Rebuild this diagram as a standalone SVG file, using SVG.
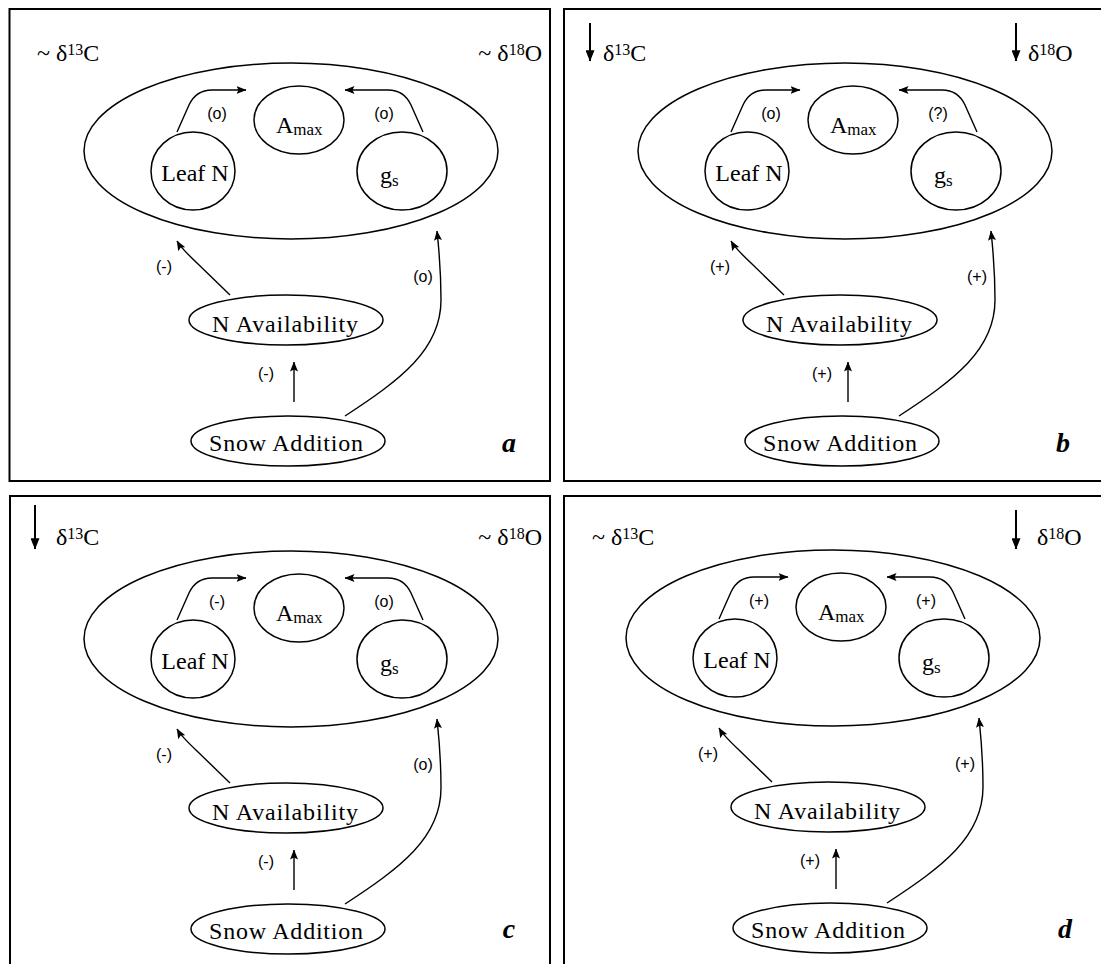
<svg xmlns="http://www.w3.org/2000/svg" width="1101" height="964" viewBox="0 0 1101 964">
<style>
.frame{fill:none;stroke:#000;stroke-width:2}
.node ellipse{fill:none;stroke:#000;stroke-width:1.5}
.lbl{font-family:"Liberation Serif","Times New Roman",serif;font-size:24px;fill:#000}
.sub{font-size:17px}
.sup{font-size:16px}
.sgn{font-family:"Liberation Sans",Arial,sans-serif;font-size:16px;fill:#000;text-anchor:middle}
.conn{fill:none;stroke:#000;stroke-width:1.4;marker-end:url(#ah)}
.dn{fill:none;stroke:#000;stroke-width:2;marker-end:url(#ahb)}
.letter{font-family:"Liberation Serif","Times New Roman",serif;font-size:28px;font-weight:bold;font-style:italic;text-anchor:middle}
</style>
<defs>
<marker id="ah" markerUnits="userSpaceOnUse" viewBox="0 0 10 8" refX="9.5" refY="4" markerWidth="10" markerHeight="8" orient="auto"><path d="M0,0 L10,4 L0,8 L2,4 Z" fill="#000"/></marker>
<marker id="ahb" markerUnits="userSpaceOnUse" viewBox="0 0 10 8" refX="9.5" refY="4" markerWidth="12" markerHeight="9" orient="auto"><path d="M0,0 L10,4 L0,8 Z" fill="#000"/></marker>
</defs>
<rect width="1101" height="964" fill="#fff"/>

<!-- Panel a -->
<g id="panel-a">
<rect class="frame" x="9.5" y="9" width="540.5" height="472"/>
<text class="lbl" x="37" y="61">~ δ<tspan class="sup" dy="-6">13</tspan><tspan dy="6">C</tspan></text>
<text class="lbl" x="542" y="61" text-anchor="end">~ δ<tspan class="sup" dy="-6">18</tspan><tspan dy="6">O</tspan></text>
<text class="letter" x="509" y="452">a</text>
<g transform="translate(0,0)">
<g id="a-leaf-system" class="node"><ellipse cx="291" cy="151" rx="207" ry="88"/></g>
<g id="a-amax" class="node"><ellipse cx="299" cy="120" rx="45" ry="34"/><text class="lbl" x="276" y="133">A<tspan class="sub" dy="2">max</tspan></text></g>
<g id="a-leafn" class="node"><ellipse cx="193" cy="171" rx="42" ry="39"/><text class="lbl" x="195" y="181" text-anchor="middle">Leaf N</text></g>
<g id="a-gs" class="node"><ellipse cx="402" cy="171" rx="45" ry="39"/><text class="lbl" x="380" y="183">g<tspan class="sub" dy="3">s</tspan></text></g>
<g id="a-navail" class="node"><ellipse cx="286" cy="320" rx="97" ry="25"/><text class="lbl" x="285" y="332" text-anchor="middle" textLength="146">N Availability</text></g>
<g id="a-snow" class="node"><ellipse cx="288" cy="441" rx="97" ry="25"/><text class="lbl" x="286" y="451" text-anchor="middle" textLength="154">Snow Addition</text></g>
<g id="a-connectors">
<path class="conn" d="M177,132 L189,105 Q196,90 212,90 L246,90"/>
<path class="conn" d="M423,132 L411,105 Q404,90 388,90 L345,90"/>
<path class="conn" d="M230,295 L197,263 Q181,248 177,241"/>
<path class="conn" d="M294,402 L294,362"/>
<path class="conn" d="M345,416 C400,380 441,350 441,300 C441,268 439,250 437,231"/>
<text class="sgn" x="217" y="119">(o)</text>
<text class="sgn" x="384" y="119">(o)</text>
<text class="sgn" x="164" y="272">(-)</text>
<text class="sgn" x="266" y="379">(-)</text>
<text class="sgn" x="423" y="282">(o)</text>
</g>
</g>
</g>

<!-- Panel b -->
<g id="panel-b">
<rect class="frame" x="564" y="9" width="545" height="472"/>
<path class="dn" d="M590,23 L590,61"/>
<text class="lbl" x="603" y="61">δ<tspan class="sup" dy="-6">13</tspan><tspan dy="6">C</tspan></text>
<path class="dn" d="M1016,23 L1016,61"/>
<text class="lbl" x="1028" y="61">δ<tspan class="sup" dy="-6">18</tspan><tspan dy="6">O</tspan></text>
<text class="letter" x="1063" y="452">b</text>
<g transform="translate(554,0)">
<g id="b-leaf-system" class="node"><ellipse cx="291" cy="151" rx="207" ry="88"/></g>
<g id="b-amax" class="node"><ellipse cx="299" cy="120" rx="45" ry="34"/><text class="lbl" x="276" y="133">A<tspan class="sub" dy="2">max</tspan></text></g>
<g id="b-leafn" class="node"><ellipse cx="193" cy="171" rx="42" ry="39"/><text class="lbl" x="195" y="181" text-anchor="middle">Leaf N</text></g>
<g id="b-gs" class="node"><ellipse cx="402" cy="171" rx="45" ry="39"/><text class="lbl" x="380" y="183">g<tspan class="sub" dy="3">s</tspan></text></g>
<g id="b-navail" class="node"><ellipse cx="286" cy="320" rx="97" ry="25"/><text class="lbl" x="285" y="332" text-anchor="middle" textLength="146">N Availability</text></g>
<g id="b-snow" class="node"><ellipse cx="288" cy="441" rx="97" ry="25"/><text class="lbl" x="286" y="451" text-anchor="middle" textLength="154">Snow Addition</text></g>
<g id="b-connectors">
<path class="conn" d="M177,132 L189,105 Q196,90 212,90 L246,90"/>
<path class="conn" d="M423,132 L411,105 Q404,90 388,90 L345,90"/>
<path class="conn" d="M230,295 L197,263 Q181,248 177,241"/>
<path class="conn" d="M294,402 L294,362"/>
<path class="conn" d="M345,416 C400,380 441,350 441,300 C441,268 439,250 437,231"/>
<text class="sgn" x="217" y="119">(o)</text>
<text class="sgn" x="384" y="119">(?)</text>
<text class="sgn" x="166" y="272">(+)</text>
<text class="sgn" x="268" y="379">(+)</text>
<text class="sgn" x="423" y="282">(+)</text>
</g>
</g>
</g>

<!-- Panel c -->
<g id="panel-c">
<rect class="frame" x="10" y="496" width="540" height="480"/>
<path class="dn" d="M35,505 L35,549"/>
<text class="lbl" x="56" y="545">δ<tspan class="sup" dy="-6">13</tspan><tspan dy="6">C</tspan></text>
<text class="lbl" x="542" y="545" text-anchor="end">~ δ<tspan class="sup" dy="-6">18</tspan><tspan dy="6">O</tspan></text>
<text class="letter" x="509" y="938">c</text>
<g transform="translate(0,488)">
<g id="c-leaf-system" class="node"><ellipse cx="291" cy="151" rx="207" ry="88"/></g>
<g id="c-amax" class="node"><ellipse cx="299" cy="120" rx="45" ry="34"/><text class="lbl" x="276" y="133">A<tspan class="sub" dy="2">max</tspan></text></g>
<g id="c-leafn" class="node"><ellipse cx="193" cy="171" rx="42" ry="39"/><text class="lbl" x="195" y="181" text-anchor="middle">Leaf N</text></g>
<g id="c-gs" class="node"><ellipse cx="402" cy="171" rx="45" ry="39"/><text class="lbl" x="380" y="183">g<tspan class="sub" dy="3">s</tspan></text></g>
<g id="c-navail" class="node"><ellipse cx="286" cy="320" rx="97" ry="25"/><text class="lbl" x="285" y="332" text-anchor="middle" textLength="146">N Availability</text></g>
<g id="c-snow" class="node"><ellipse cx="288" cy="441" rx="97" ry="25"/><text class="lbl" x="286" y="451" text-anchor="middle" textLength="154">Snow Addition</text></g>
<g id="c-connectors">
<path class="conn" d="M177,132 L189,105 Q196,90 212,90 L246,90"/>
<path class="conn" d="M423,132 L411,105 Q404,90 388,90 L345,90"/>
<path class="conn" d="M230,295 L197,263 Q181,248 177,241"/>
<path class="conn" d="M294,402 L294,362"/>
<path class="conn" d="M345,416 C400,380 441,350 441,300 C441,268 439,250 437,231"/>
<text class="sgn" x="217" y="119">(-)</text>
<text class="sgn" x="384" y="119">(o)</text>
<text class="sgn" x="164" y="272">(-)</text>
<text class="sgn" x="266" y="379">(-)</text>
<text class="sgn" x="423" y="282">(o)</text>
</g>
</g>
</g>

<!-- Panel d -->
<g id="panel-d">
<rect class="frame" x="564" y="496" width="545" height="480"/>
<text class="lbl" x="592" y="545">~ δ<tspan class="sup" dy="-6">13</tspan><tspan dy="6">C</tspan></text>
<path class="dn" d="M1016,510 L1016,549"/>
<text class="lbl" x="1037" y="545">δ<tspan class="sup" dy="-6">18</tspan><tspan dy="6">O</tspan></text>
<text class="letter" x="1065" y="938">d</text>
<g transform="translate(542,487)">
<g id="d-leaf-system" class="node"><ellipse cx="291" cy="151" rx="207" ry="88"/></g>
<g id="d-amax" class="node"><ellipse cx="299" cy="120" rx="45" ry="34"/><text class="lbl" x="276" y="133">A<tspan class="sub" dy="2">max</tspan></text></g>
<g id="d-leafn" class="node"><ellipse cx="193" cy="171" rx="42" ry="39"/><text class="lbl" x="195" y="181" text-anchor="middle">Leaf N</text></g>
<g id="d-gs" class="node"><ellipse cx="402" cy="171" rx="45" ry="39"/><text class="lbl" x="380" y="183">g<tspan class="sub" dy="3">s</tspan></text></g>
<g id="d-navail" class="node"><ellipse cx="286" cy="320" rx="97" ry="25"/><text class="lbl" x="285" y="332" text-anchor="middle" textLength="146">N Availability</text></g>
<g id="d-snow" class="node"><ellipse cx="288" cy="441" rx="97" ry="25"/><text class="lbl" x="286" y="451" text-anchor="middle" textLength="154">Snow Addition</text></g>
<g id="d-connectors">
<path class="conn" d="M177,132 L189,105 Q196,90 212,90 L246,90"/>
<path class="conn" d="M423,132 L411,105 Q404,90 388,90 L345,90"/>
<path class="conn" d="M230,295 L197,263 Q181,248 177,241"/>
<path class="conn" d="M294,402 L294,362"/>
<path class="conn" d="M345,416 C400,380 441,350 441,300 C441,268 439,250 437,231"/>
<text class="sgn" x="217" y="119">(+)</text>
<text class="sgn" x="384" y="119">(+)</text>
<text class="sgn" x="166" y="272">(+)</text>
<text class="sgn" x="268" y="379">(+)</text>
<text class="sgn" x="423" y="282">(+)</text>
</g>
</g>
</g>
</svg>
